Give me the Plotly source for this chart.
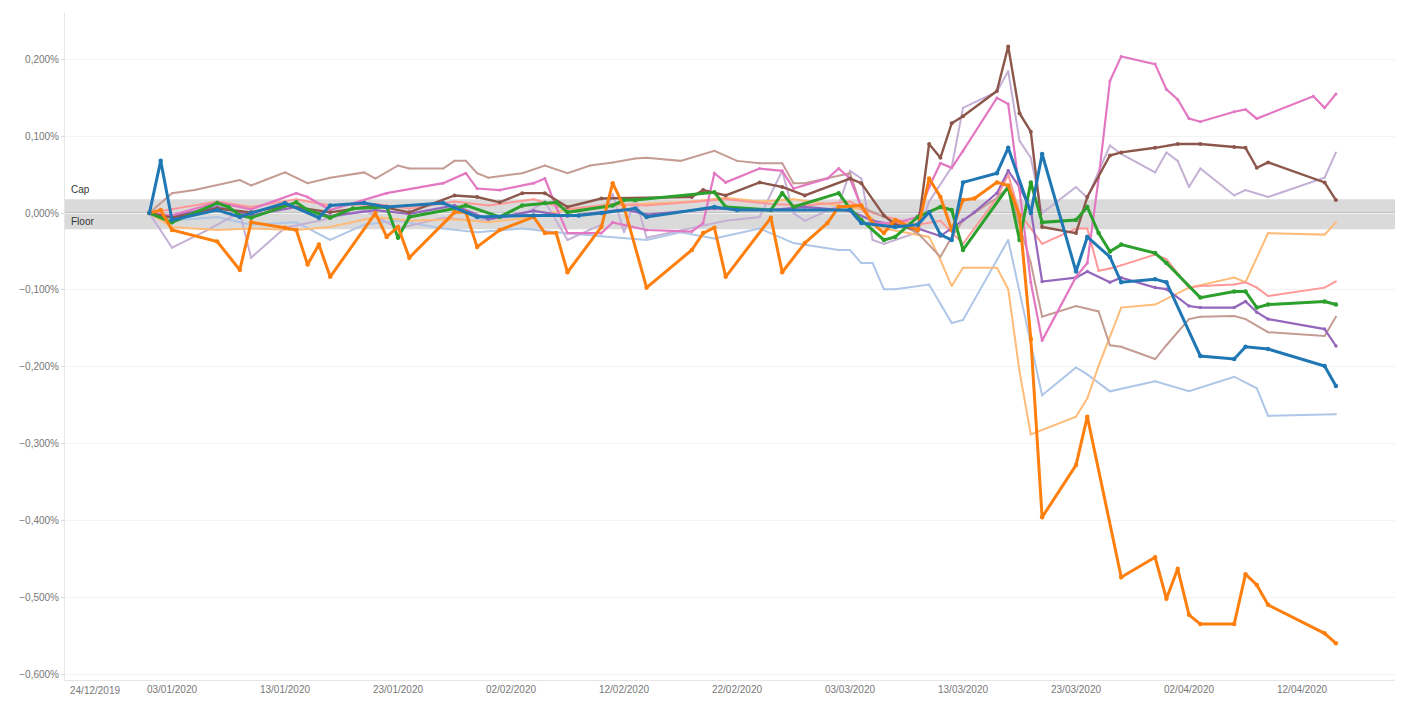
import plotly.graph_objects as go

# ---------------- data (values in percent) ----------------
blue_dates = ["2020-01-01","2020-01-02","2020-01-03","2020-01-07","2020-01-09","2020-01-10","2020-01-13","2020-01-16","2020-01-17","2020-01-20",
              "2020-01-22","2020-01-27","2020-01-30","2020-02-04","2020-02-08","2020-02-10","2020-02-13","2020-02-14","2020-02-20","2020-02-22",
              "2020-03-03","2020-03-04","2020-03-07","2020-03-09","2020-03-10","2020-03-11","2020-03-12","2020-03-13","2020-03-16","2020-03-17",
              "2020-03-19","2020-03-20","2020-03-23","2020-03-24","2020-03-26","2020-03-27","2020-03-30","2020-03-31","2020-04-03","2020-04-06",
              "2020-04-07","2020-04-09","2020-04-14","2020-04-15"]
blue_vals = [0, 0.068, -0.009, 0.004, -0.005, 0, 0.013, -0.006, 0.010, 0.013,
             0.008, 0.013, -0.005, -0.003, -0.003, 0.000, 0.006, -0.005, 0.008, 0.004,
             0.004, -0.013, -0.018, -0.015, 0.001, -0.028, -0.035, 0.040, 0.052, 0.085,
             0.000, 0.077, -0.076, -0.031, -0.057, -0.090, -0.086, -0.090, -0.186, -0.190,
             -0.174, -0.177, -0.199, -0.225]

orange_dates = ["2020-01-01","2020-01-02","2020-01-03","2020-01-07","2020-01-09","2020-01-10","2020-01-13","2020-01-14","2020-01-15","2020-01-16",
                "2020-01-17","2020-01-21","2020-01-22","2020-01-23","2020-01-24","2020-01-28","2020-01-29","2020-01-30","2020-02-01","2020-02-04",
                "2020-02-05","2020-02-06","2020-02-07","2020-02-10","2020-02-11","2020-02-12","2020-02-14","2020-02-18","2020-02-19","2020-02-20",
                "2020-02-21","2020-02-25","2020-02-26","2020-02-28","2020-03-01","2020-03-02","2020-03-04","2020-03-05","2020-03-06","2020-03-07",
                "2020-03-09","2020-03-10","2020-03-11","2020-03-12","2020-03-13","2020-03-14","2020-03-16","2020-03-17","2020-03-18","2020-03-19",
                "2020-03-20","2020-03-23","2020-03-24","2020-03-27","2020-03-30","2020-03-31","2020-04-01","2020-04-02","2020-04-03","2020-04-06",
                "2020-04-07","2020-04-08","2020-04-09","2020-04-14","2020-04-15"]
orange_vals = [0.000, 0.004, -0.022, -0.037, -0.074, -0.012, -0.019, -0.022, -0.067, -0.041,
               -0.083, 0.000, -0.031, -0.018, -0.058, 0.001, 0.001, -0.044, -0.022, -0.005,
               -0.026, -0.026, -0.077, -0.018, 0.039, 0.008, -0.097, -0.048, -0.026, -0.019,
               -0.083, -0.006, -0.077, -0.039, -0.013, 0.008, 0.010, -0.013, -0.026, -0.009,
               -0.022, 0.045, 0.021, -0.022, 0.017, 0.019, 0.040, 0.036, -0.003, -0.164,
               -0.396, -0.328, -0.265, -0.474, -0.448, -0.502, -0.463, -0.523, -0.535, -0.535,
               -0.470, -0.484, -0.510, -0.547, -0.560]

green_dates = ["2020-01-01","2020-01-03","2020-01-07","2020-01-08","2020-01-09","2020-01-10","2020-01-14","2020-01-15","2020-01-17","2020-01-19",
               "2020-01-22","2020-01-23","2020-01-24","2020-01-28","2020-01-29","2020-02-01","2020-02-03","2020-02-05","2020-02-06","2020-02-07",
               "2020-02-11","2020-02-12","2020-02-13","2020-02-20","2020-02-21","2020-02-25","2020-02-26","2020-02-27","2020-03-02","2020-03-03",
               "2020-03-04","2020-03-06","2020-03-07","2020-03-09","2020-03-11","2020-03-12","2020-03-13","2020-03-17","2020-03-18","2020-03-19",
               "2020-03-20","2020-03-23","2020-03-24","2020-03-25","2020-03-26","2020-03-27","2020-03-30","2020-03-31","2020-04-03","2020-04-06",
               "2020-04-07","2020-04-08","2020-04-09","2020-04-14","2020-04-15"]
green_vals = [0.000, -0.012, 0.013, 0.008, -0.003, -0.006, 0.014, 0.004, -0.006, 0.006,
              0.008, -0.032, -0.005, 0.006, 0.010, -0.005, 0.010, 0.013, 0.014, 0.001,
              0.010, 0.017, 0.017, 0.027, 0.008, 0.004, 0.026, 0.008, 0.026, 0.006,
              -0.009, -0.035, -0.031, -0.005, 0.008, 0.004, -0.048, 0.034, -0.035, 0.040,
              -0.012, -0.009, 0.008, -0.026, -0.050, -0.041, -0.052, -0.065, -0.110, -0.102,
              -0.102, -0.123, -0.119, -0.115, -0.119]

brown_dates = ["2020-01-01","2020-01-03","2020-01-07","2020-01-10","2020-01-13","2020-01-17","2020-01-21","2020-01-24","2020-01-28","2020-01-30",
               "2020-02-01","2020-02-03","2020-02-05","2020-02-07","2020-02-10","2020-02-18","2020-02-19","2020-02-21","2020-02-24","2020-02-26",
               "2020-02-28","2020-03-03","2020-03-04","2020-03-06","2020-03-07","2020-03-09","2020-03-10","2020-03-11","2020-03-12","2020-03-13",
               "2020-03-16","2020-03-17","2020-03-18","2020-03-19","2020-03-20","2020-03-23","2020-03-24","2020-03-26","2020-03-27","2020-03-30",
               "2020-04-01","2020-04-03","2020-04-06","2020-04-07","2020-04-08","2020-04-09","2020-04-14","2020-04-15"]
brown_vals = [0.000, -0.006, 0.006, 0.001, 0.010, 0.001, 0.010, 0.001, 0.023, 0.021,
              0.014, 0.026, 0.026, 0.008, 0.019, 0.021, 0.030, 0.023, 0.040, 0.034,
              0.023, 0.045, 0.039, -0.003, -0.015, -0.022, 0.090, 0.072, 0.117, 0.126,
              0.159, 0.217, 0.130, 0.106, -0.018, -0.026, 0.021, 0.075, 0.079, 0.085,
              0.090, 0.090, 0.086, 0.085, 0.059, 0.066, 0.040, 0.017]

pink_dates = ["2020-01-01","2020-01-03","2020-01-07","2020-01-10","2020-01-14","2020-01-15","2020-01-17","2020-01-22","2020-01-27","2020-01-29",
              "2020-01-30","2020-02-01","2020-02-04","2020-02-05","2020-02-06","2020-02-07","2020-02-10","2020-02-11","2020-02-14","2020-02-18",
              "2020-02-19","2020-02-20","2020-02-21","2020-02-24","2020-02-26","2020-02-27","2020-03-01","2020-03-02","2020-03-03","2020-03-04",
              "2020-03-05","2020-03-07","2020-03-09","2020-03-10","2020-03-11","2020-03-12","2020-03-13","2020-03-16","2020-03-17","2020-03-18",
              "2020-03-19","2020-03-20","2020-03-23","2020-03-24","2020-03-25","2020-03-26","2020-03-27","2020-03-30","2020-03-31","2020-04-01",
              "2020-04-02","2020-04-03","2020-04-06","2020-04-07","2020-04-08","2020-04-13","2020-04-14","2020-04-15"]
pink_vals = [0.000, -0.003, 0.014, 0.005, 0.026, 0.021, 0.004, 0.026, 0.039, 0.052,
             0.032, 0.030, 0.039, 0.045, 0.008, -0.026, -0.026, -0.012, -0.022, -0.024,
             -0.013, 0.052, 0.040, 0.058, 0.055, 0.032, 0.045, 0.058, 0.045, 0.008,
             -0.013, -0.013, -0.005, 0.034, 0.065, 0.059, 0.081, 0.150, 0.142, 0.030,
             -0.090, -0.166, -0.083, -0.065, 0.045, 0.172, 0.204, 0.194, 0.161, 0.148,
             0.123, 0.119, 0.132, 0.135, 0.123, 0.152, 0.137, 0.155]

purple_dates = ["2020-01-01","2020-01-03","2020-01-07","2020-01-10","2020-01-14","2020-01-17","2020-01-21","2020-01-24","2020-01-28","2020-01-31",
                "2020-02-04","2020-02-07","2020-02-12","2020-02-14","2020-02-20","2020-02-25","2020-02-28","2020-03-03","2020-03-05","2020-03-09",
                "2020-03-11","2020-03-13","2020-03-14","2020-03-16","2020-03-17","2020-03-18","2020-03-19","2020-03-20","2020-03-23","2020-03-24",
                "2020-03-26","2020-03-27","2020-03-30","2020-03-31","2020-04-02","2020-04-03","2020-04-06","2020-04-07","2020-04-08","2020-04-09",
                "2020-04-14","2020-04-15"]
purple_vals = [0.000, -0.004, 0.008, -0.003, 0.008, -0.004, 0.004, -0.001, 0.010, -0.008,
               0.003, -0.004, 0.005, -0.002, 0.006, 0.004, 0.008, 0.003, -0.010, -0.020,
               -0.030, -0.009, 0.001, 0.026, 0.055, 0.034, 0.004, -0.089, -0.084, -0.076,
               -0.090, -0.084, -0.097, -0.099, -0.121, -0.123, -0.123, -0.115, -0.129, -0.138,
               -0.151, -0.173]

rose_dates = ["2020-01-01","2020-01-03","2020-01-05","2020-01-09","2020-01-10","2020-01-13","2020-01-15","2020-01-17","2020-01-20","2020-01-21",
              "2020-01-23","2020-01-24","2020-01-27","2020-01-28","2020-01-29","2020-01-30","2020-01-31","2020-02-03","2020-02-05","2020-02-07",
              "2020-02-09","2020-02-11","2020-02-13","2020-02-14","2020-02-17","2020-02-20","2020-02-22","2020-02-24","2020-02-26","2020-02-27",
              "2020-02-28","2020-03-03","2020-03-04","2020-03-06","2020-03-09","2020-03-11","2020-03-12","2020-03-13","2020-03-16","2020-03-17",
              "2020-03-19","2020-03-20","2020-03-23","2020-03-25","2020-03-26","2020-03-27","2020-03-30","2020-03-31","2020-04-02","2020-04-03",
              "2020-04-06","2020-04-07","2020-04-09","2020-04-14","2020-04-15"]
rose_vals = [0.000, 0.026, 0.030, 0.043, 0.036, 0.053, 0.039, 0.046, 0.053, 0.045,
             0.062, 0.058, 0.058, 0.068, 0.068, 0.052, 0.046, 0.052, 0.062, 0.052,
             0.062, 0.066, 0.071, 0.072, 0.068, 0.081, 0.068, 0.065, 0.065, 0.039,
             0.039, 0.052, 0.008, -0.005, -0.026, -0.057, -0.031, -0.010, 0.020, 0.034,
             -0.065, -0.135, -0.121, -0.128, -0.172, -0.174, -0.190, -0.172, -0.138, -0.135,
             -0.134, -0.138, -0.155, -0.160, -0.135]

lavender_dates = ["2020-01-01","2020-01-03","2020-01-06","2020-01-09","2020-01-10","2020-01-13","2020-01-16","2020-01-20","2020-01-23","2020-01-27",
                  "2020-01-30","2020-02-03","2020-02-05","2020-02-07","2020-02-10","2020-02-11","2020-02-12","2020-02-13","2020-02-14","2020-02-18",
                  "2020-02-21","2020-02-24","2020-02-26","2020-02-27","2020-02-28","2020-03-02","2020-03-03","2020-03-04","2020-03-05","2020-03-06",
                  "2020-03-09","2020-03-10","2020-03-12","2020-03-13","2020-03-16","2020-03-17","2020-03-18","2020-03-19","2020-03-20","2020-03-23",
                  "2020-03-24","2020-03-26","2020-03-27","2020-03-30","2020-03-31","2020-04-01","2020-04-02","2020-04-03","2020-04-06","2020-04-07",
                  "2020-04-09","2020-04-14","2020-04-15"]
lavender_vals = [0.000, -0.045, -0.023, 0.001, -0.058, -0.019, -0.010, 0.004, -0.020, -0.006,
                 -0.010, -0.003, 0.015, -0.035, -0.015, 0.025, -0.025, 0.020, -0.032, -0.020,
                 -0.010, -0.005, 0.055, 0.000, -0.010, 0.010, 0.055, 0.045, -0.035, -0.040,
                 -0.025, 0.015, 0.060, 0.137, 0.158, 0.185, 0.094, 0.072, 0.000, 0.034,
                 0.020, 0.088, 0.077, 0.053, 0.079, 0.068, 0.034, 0.058, 0.023, 0.030,
                 0.021, 0.046, 0.079]

lightblue_dates = ["2020-01-01","2020-01-03","2020-01-07","2020-01-10","2020-01-14","2020-01-17","2020-01-20","2020-01-23","2020-01-27","2020-01-30",
                   "2020-02-03","2020-02-06","2020-02-10","2020-02-14","2020-02-17","2020-02-20","2020-02-24","2020-02-27","2020-03-02","2020-03-03",
                   "2020-03-04","2020-03-05","2020-03-06","2020-03-07","2020-03-10","2020-03-12","2020-03-13","2020-03-17","2020-03-20","2020-03-23",
                   "2020-03-24","2020-03-26","2020-03-30","2020-04-02","2020-04-06","2020-04-08","2020-04-09","2020-04-15"]
lightblue_vals = [0.000, -0.010, -0.005, -0.015, -0.012, -0.035, -0.015, -0.010, -0.020, -0.025,
                  -0.020, -0.025, -0.030, -0.035, -0.025, -0.033, -0.020, -0.039, -0.048, -0.048,
                  -0.065, -0.065, -0.099, -0.099, -0.093, -0.143, -0.139, -0.035, -0.237, -0.201,
                  -0.210, -0.232, -0.219, -0.232, -0.213, -0.228, -0.264, -0.262]

lightorange_dates = ["2020-01-01","2020-01-03","2020-01-07","2020-01-10","2020-01-14","2020-01-17","2020-01-21","2020-01-24","2020-01-28","2020-01-31",
                     "2020-02-04","2020-02-07","2020-02-11","2020-02-14","2020-02-18","2020-02-21","2020-02-24","2020-02-27","2020-03-02","2020-03-04",
                     "2020-03-06","2020-03-10","2020-03-11","2020-03-12","2020-03-13","2020-03-16","2020-03-17","2020-03-18","2020-03-19","2020-03-23",
                     "2020-03-24","2020-03-25","2020-03-27","2020-03-30","2020-04-02","2020-04-06","2020-04-07","2020-04-09","2020-04-14","2020-04-15"]
lightorange_vals = [0.000, -0.018, -0.022, -0.020, -0.022, -0.018, -0.005, -0.010, -0.008, -0.012,
                    -0.005, 0.005, 0.010, 0.012, 0.015, 0.020, 0.015, 0.018, 0.010, 0.005,
                    -0.020, -0.031, -0.061, -0.095, -0.071, -0.071, -0.099, -0.206, -0.288, -0.265,
                    -0.241, -0.199, -0.123, -0.119, -0.097, -0.084, -0.090, -0.026, -0.028, -0.012]

salmon_dates = ["2020-01-01","2020-01-03","2020-01-07","2020-01-10","2020-01-14","2020-01-17","2020-01-21","2020-01-24","2020-01-28","2020-01-31",
                "2020-02-04","2020-02-07","2020-02-11","2020-02-14","2020-02-18","2020-02-21","2020-02-25","2020-02-28","2020-03-03","2020-03-05",
                "2020-03-09","2020-03-11","2020-03-13","2020-03-16","2020-03-17","2020-03-18","2020-03-20","2020-03-23","2020-03-24","2020-03-25",
                "2020-03-26","2020-03-27","2020-03-30","2020-03-31","2020-04-02","2020-04-03","2020-04-06","2020-04-07","2020-04-08","2020-04-09",
                "2020-04-14","2020-04-15"]
salmon_vals = [0.000, 0.005, 0.015, 0.008, 0.018, 0.010, 0.012, 0.006, 0.015, 0.010,
               0.018, 0.005, 0.012, 0.010, 0.015, 0.018, 0.012, 0.010, 0.015, 0.000,
               -0.015, -0.010, -0.040, 0.020, 0.050, 0.000, -0.040, -0.020, -0.020, -0.075,
               -0.072, -0.068, -0.054, -0.060, -0.097, -0.095, -0.093, -0.090, -0.097, -0.108,
               -0.097, -0.089]

cap_level = 0.018     # percent
floor_level = -0.021  # percent
y_ticks = [0.2, 0.1, 0.0, -0.1, -0.2, -0.3, -0.4, -0.5, -0.6]  # percent
first_tick_label = "24/12/2019"

series = [
    ("Light blue", lightblue_dates, lightblue_vals, "#aec7e8", 2.0, 2),
    ("Lavender", lavender_dates, lavender_vals, "#c5b0d5", 2.0, 2),
    ("Light orange", lightorange_dates, lightorange_vals, "#ffbb78", 2.0, 2),
    ("Salmon", salmon_dates, salmon_vals, "#ff9896", 2.0, 2),
    ("Rose", rose_dates, rose_vals, "#c49c94", 2.0, 2),
    ("Purple", purple_dates, purple_vals, "#9467bd", 2.2, 3.5),
    ("Pink", pink_dates, pink_vals, "#e377c2", 2.2, 3),
    ("Brown", brown_dates, brown_vals, "#8c564b", 2.4, 4),
    ("Green", green_dates, green_vals, "#2ca02c", 3.0, 4.5),
    ("Orange", orange_dates, orange_vals, "#ff7f0e", 3.0, 4.5),
    ("Blue", blue_dates, blue_vals, "#1f77b4", 3.0, 4.5),
]

fig = go.Figure()
for name, d, v, color, width, msize in series:
    assert len(d) == len(v), name
    fig.add_trace(go.Scatter(
        x=d, y=[val / 100 for val in v], mode="lines+markers", name=name,
        line=dict(color=color, width=width),
        marker=dict(color=color, size=msize),
        hoverinfo="x+y+name",
    ))

# Cap / Floor band
fig.add_shape(type="rect", xref="paper", yref="y", x0=0, x1=1,
              y0=floor_level / 100, y1=cap_level / 100,
              fillcolor="#d4d4d4", opacity=0.85, line=dict(width=0), layer="below")
fig.add_shape(type="line", xref="paper", yref="y", x0=0, x1=1, y0=0, y1=0,
              line=dict(color="#9a9a9a", width=1), layer="below")

fig.add_annotation(text="Cap", xref="paper", yref="y", x=0.003, y=cap_level / 100,
                   xanchor="left", yanchor="bottom", showarrow=False, yshift=2,
                   font=dict(family="Liberation Sans, Arial", size=10, color="#333333"))
fig.add_annotation(text="Floor", xref="paper", yref="y", x=0.003, y=0,
                   xanchor="left", yanchor="top", showarrow=False, yshift=-1,
                   font=dict(family="Liberation Sans, Arial", size=10, color="#333333"))
# first date label sits at the very left edge of the axis
fig.add_annotation(text=first_tick_label, xref="paper", yref="paper", x=0.002, y=0,
                   xanchor="left", yanchor="top", showarrow=False, yshift=-3,
                   font=dict(family="Liberation Sans, Arial", size=10, color="#777777"))

fig.update_layout(
    width=1396, height=693,
    margin=dict(l=57, r=9, t=5, b=21, autoexpand=False),
    paper_bgcolor="white", plot_bgcolor="white",
    showlegend=False,
    separators=",.",
    font=dict(family="Liberation Sans, Arial", size=10, color="#777777"),
    xaxis=dict(
        type="date",
        range=["2019-12-24 12:45", "2020-04-20 05:30"],
        tick0="2019-12-24", dtick=10 * 24 * 3600 * 1000,
        tickformat="%d/%m/%Y",
        showgrid=False, zeroline=False,
        showline=True, linecolor="#e6e6e6", linewidth=1,
        ticks="", tickfont=dict(size=10, color="#777777"),
    ),
    yaxis=dict(
        range=[-0.006078, 0.002605],
        tickvals=[t / 100 for t in y_ticks],
        tickformat=".3%",
        showgrid=True, gridcolor="#f3f3f3", zeroline=False,
        showline=True, linecolor="#e6e6e6", linewidth=1,
        ticks="outside", ticklen=3, tickcolor="#dddddd",
        tickfont=dict(size=10, color="#777777"),
    ),
)

fig.write_html("out.html")
